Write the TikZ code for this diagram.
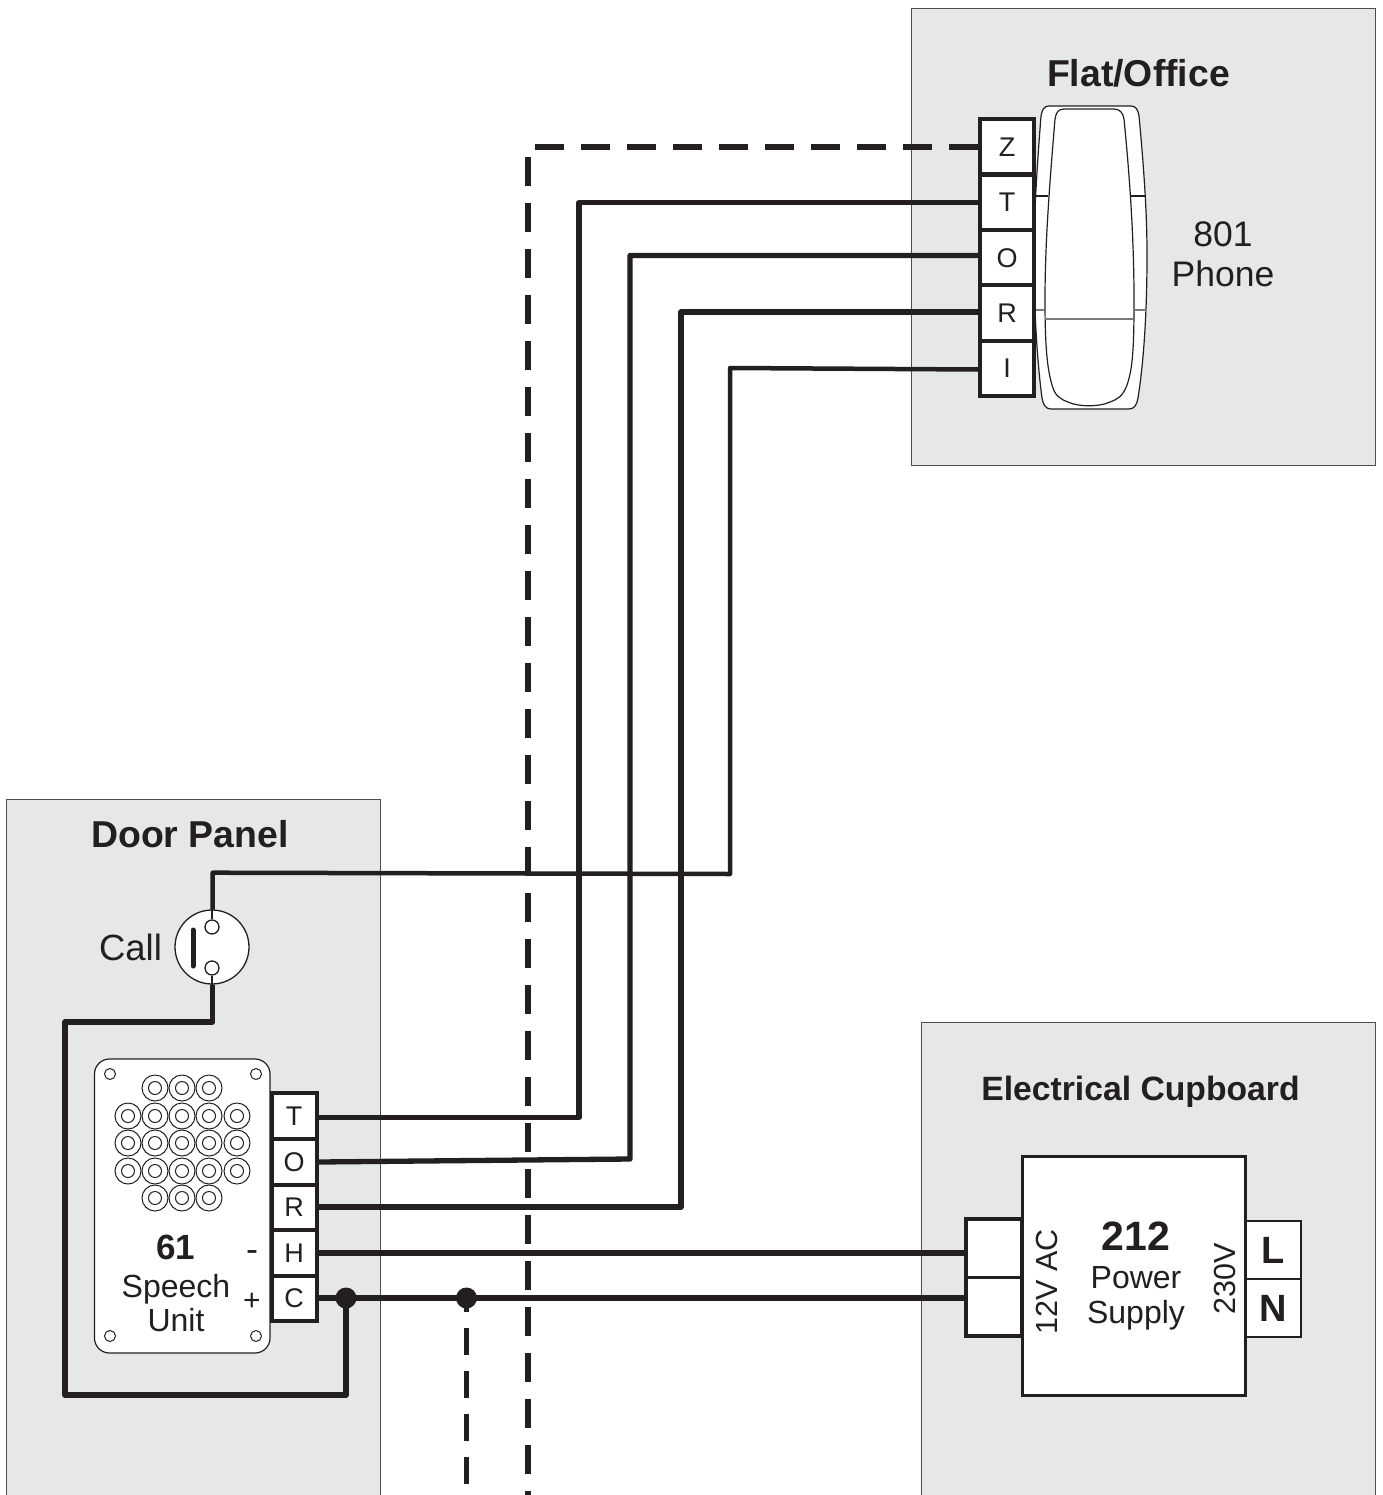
\documentclass[tikz,border=0pt]{standalone}
\usepackage{fontspec}
\setmainfont{Liberation Sans}
\definecolor{panelgray}{HTML}{E6E7E8}
\definecolor{inkblack}{HTML}{231F20}
\newcommand{\fs}[1]{\fontsize{#1}{#1}\selectfont}
\tikzset{
	panel/.style={draw=inkblack!80, line width=0.9pt, fill=panelgray},
	wire/.style={line width=5.3pt, draw=inkblack, line join=round},
	dashwire/.style={wire, dash pattern=on 29pt off 17pt},
	term/.style={draw=inkblack, line width=4pt, fill=white, minimum width=54pt, minimum height=55pt, inner sep=0pt, text=inkblack, font=\fs{27}},
	dterm/.style={draw=inkblack, line width=4pt, fill=white, minimum width=45pt, minimum height=45.5pt, inner sep=0pt, text=inkblack, font=\fs{27}},
	acterm/.style={draw=inkblack, line width=3.5pt, fill=white, minimum width=56pt, minimum height=58.5pt, inner sep=0pt},
	pterm/.style={draw=inkblack, line width=2.5pt, fill=white, minimum width=55.5pt, minimum height=58pt, inner sep=0pt, text=inkblack, font=\fs{38}\bfseries},
	label/.style={text=inkblack, inner sep=0pt, align=center},
	thin line/.style={draw=inkblack, line width=1.2pt},
	ring/.style={draw=inkblack, line width=1pt},
	button/.style={draw=inkblack, line width=1.3pt, fill=white, circle, inner sep=0pt},
	joint/.style={circle, fill=inkblack, minimum size=21pt, inner sep=0pt},
}
\begin{document}
\begin{tikzpicture}[x=1pt,y=-1pt]
					\clip (0,0) rectangle (1382,1495);
					\fill [white] (0,0) rectangle (1382,1495);
					% panels
					\path [panel] (911.7,8.7) rectangle (1375,465);
					\path [panel] (6.7,799.7) rectangle (380,1510);
					\path [panel] (921.7,1022.7) rectangle (1375,1510);
					\node [label, font=\fs{37.4}\bfseries] (flatname) at (1138.5,73) {Flat/Office};
					\node [label, font=\fs{37.4}\bfseries] (doorname) at (190,834) {Door Panel};
					\node [label, font=\fs{33.7}\bfseries] (cupname) at (1140.5,1092) {Electrical Cupboard};
					% handset
					\draw [thin line, fill=white] (1049,106) -- (1131,106) .. controls (1136,106) and (1138,110) .. (1139,116) .. controls (1145,180) and (1147,220) .. (1147,255) .. controls (1147,310) and (1144,360) .. (1138,398) .. controls (1137,405) and (1134,409) .. (1129,409) -- (1051,409) .. controls (1046,409) and (1043,405) .. (1042,398) .. controls (1037,360) and (1034,310) .. (1034,255) .. controls (1034,220) and (1036,180) .. (1041,116) .. controls (1042,110) and (1044,106) .. (1049,106) -- cycle;
					\draw [thin line] (1064,109) -- (1114,109) .. controls (1120,109) and (1123,113) .. (1124,119) .. controls (1130,180) and (1134,240) .. (1134,300) .. controls (1134,345) and (1133,368) .. (1127,385) .. controls (1123,396) and (1118,399) .. (1110,402) .. controls (1100,407) and (1078,407) .. (1068,402) .. controls (1060,399) and (1055,396) .. (1052,385) .. controls (1047,368) and (1045,345) .. (1045,300) .. controls (1045,240) and (1050,180) .. (1055,119) .. controls (1056,113) and (1058,109) .. (1064,109) -- cycle;
					\draw [thin line] (1036,196) -- (1048,196);
					\draw [thin line] (1130,196) -- (1145,196);
					\draw [thin line, draw=inkblack!60] (1034,310) -- (1044,310);
					\draw [thin line, draw=inkblack!60] (1134,310) -- (1147,310);
					\draw [thin line, draw=inkblack!60] (1045,319) -- (1133,319);
					\node [label, font=\fs{35.5}] (phonename) at (1223,254) {801\\[4.5pt]Phone};
					% flat terminals
					\foreach \n/\y in {Z/147,T/202.5,O/258,R/313,I/368}{
						\node [term] (f\n) at (1007,\y) {\n};
					}
					% speech unit
					\draw [thin line, fill=white, rounded corners=15pt] (94.5,1059) rectangle (270,1353);
					\foreach \x/\y in {110/1074,256/1074,110/1336,256/1336}{
						\draw [ring] (\x,\y) circle (5.5);
					}
					\foreach \x in {155,182,209}{
						\foreach \y in {1088,1198}{
							\draw [ring] (\x,\y) circle (13);
							\draw [ring] (\x,\y) circle (6.5);
						}
					}
					\foreach \x in {128,155,182,209,237}{
						\foreach \y in {1116,1143,1171}{
							\draw [ring] (\x,\y) circle (13);
							\draw [ring] (\x,\y) circle (6.5);
						}
					}
					\node [label, font=\fs{35}\bfseries] (unitnum) at (176,1247) {61};
					\node [label, font=\fs{32}] (unitname) at (176,1303.5) {Speech\\[2pt]Unit};
					\node [label, font=\fs{36}] (minus) at (252,1256) {-};
					\node [label, font=\fs{30}] (plus) at (252,1302) {+};
					% door terminals
					\foreach \n/\y in {T/1116,O/1162,R/1207.5,H/1253,C/1298.5}{
						\node [dterm] (d\n) at (294,\y) {\n};
					}
					% call button
					\node [button, minimum size=74pt] (call) at (212,947) {};
					\node [button, minimum size=14pt] (callt) at (212,927) {};
					\node [button, minimum size=14pt] (callb) at (212,968) {};
					\draw [line width=5pt, draw=inkblack, line cap=round] (193,930) -- (193,966);
					\draw [thin line] (call.north) -- (callt.north);
					\draw [thin line] (callb.south) -- (call.south);
					\node [label, font=\fs{36.5}] (callname) at (130.5,947) {Call};
					% power supply
					\node [acterm] (acone) at (994,1248) {};
					\node [acterm] (actwo) at (994,1306.5) {};
					\node [draw=inkblack, line width=3pt, fill=white, minimum width=223pt, minimum height=239pt, inner sep=0pt] (psu) at (1133.5,1275.5) {};
					\node [pterm] (mainl) at (1273,1250) {L};
					\node [pterm] (mainn) at (1273,1308) {N};
					\node [label, font=\fs{41}\bfseries] (psunum) at (1136,1236) {212};
					\node [label, font=\fs{32}] (psuname) at (1136,1298) {Power\\[3pt]Supply};
					\node [label, font=\fs{30.5}, rotate=90] (aclabel) at (1047,1282) {12V AC};
					\node [label, font=\fs{30.5}, rotate=90] (mainslabel) at (1225,1279) {230V};
					% wires
					\draw [dashwire] (fZ.west) -- (528,0 |- fZ.west) -- (528,1500);
					\foreach \n/\x/\z/\y/\w in {T/579/202.5/1117.5/1117.5,O/630/255.5/1159/1162,R/681/312/1207/1207}{
						\draw [wire] (f\n.west |- 0,\z) -- (\x,\z) -- (\x,\y) -- (d\n.east |- 0,\w);
					}
					\draw [wire, line width=4.5pt] (fI.west |- 0,369.5) -- (730,368) -- (730,874) -- (212.7,872.7) -- (call.north -| 212.7,0);
					\draw [wire] (call.south -| 212.7,0) -- (212.7,1022) -- (65,1022) -- (65,1395) -- (346,1395) -- (346,1298);
					\draw [wire] (dH.east) -- (acone.west |- dH.east);
					\draw [wire] (dC.east |- 0,1298) -- (actwo.west |- 0,1298);
					\node [joint] (jointa) at (346,1298) {};
					\node [joint] (jointb) at (466.5,1298) {};
					\draw [wire, line width=5pt, dash pattern=on 27pt off 16pt, dash phase=13pt] (jointb.center) -- (466.5,1500);
\end{tikzpicture}
\end{document}
